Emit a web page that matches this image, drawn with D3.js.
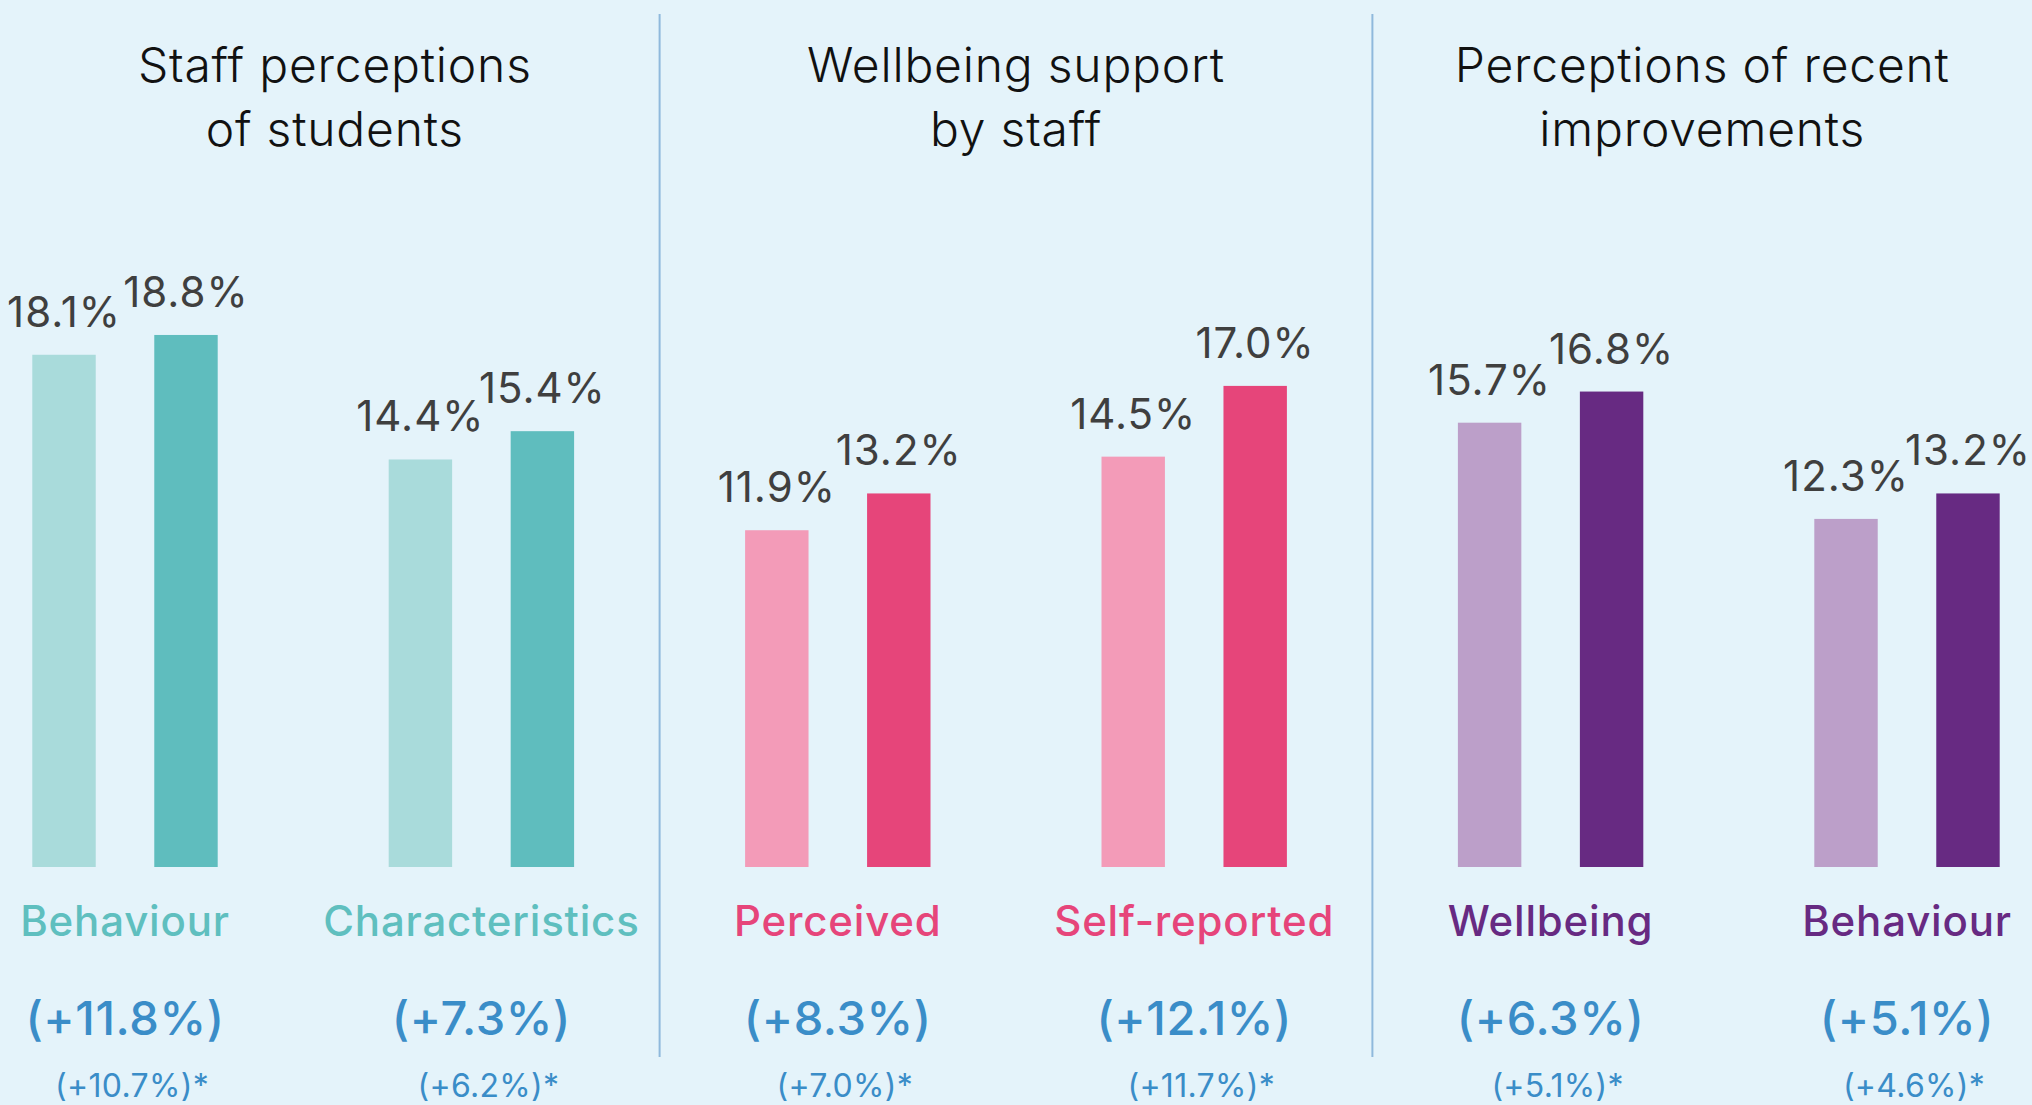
<!DOCTYPE html>
<html lang="en">
  <head>
    <meta charset="utf-8">
    <title>Staff perceptions</title>
    <script src="https://cdn.jsdelivr.net/npm/d3@7"></script>
    <style>
      body { margin: 0; background: #e4f3fa; }
      svg { display: block; }
      .title { font-family: Inter, sans-serif; font-size: 48px; font-weight: 300; fill: #111; letter-spacing: 0.8px; }
      .value { font-family: Inter, sans-serif; font-size: 42px; fill: #3f3f3f; letter-spacing: 1px; }
      .cat { font-family: Inter, sans-serif; font-size: 42px; font-weight: 500; letter-spacing: 0.8px; }
      .change { font-family: Inter, sans-serif; font-size: 47px; font-weight: 500; fill: #3a8dc8; letter-spacing: 0.6px; }
      .note { font-family: Inter, sans-serif; font-size: 32px; fill: #3a8dc8; letter-spacing: 0.3px; }
    </style>
  </head>
  <body>
    <script>
      // data
      var panelTitles = [
        ["Staff perceptions", "of students"],
        ["Wellbeing support", "by staff"],
        ["Perceptions of recent", "improvements"]
      ];
      var categories = ["Behaviour", "Characteristics", "Perceived", "Self-reported", "Wellbeing", "Behaviour"];
      var before = [18.1, 14.4, 11.9, 14.5, 15.7, 12.3];
      var after  = [18.8, 15.4, 13.2, 17.0, 16.8, 13.2];
      var changes = ["(+11.8%)", "(+7.3%)", "(+8.3%)", "(+12.1%)", "(+6.3%)", "(+5.1%)"];
      var notes = ["(+10.7%)*", "(+6.2%)*", "(+7.0%)*", "(+11.7%)*", "(+5.1%)*", "(+4.6%)*"];

      var lightColors = ["#a9dbdb", "#f39bb8", "#bc9fc9"];
      var darkColors  = ["#5fbdbe", "#e6457a", "#672a82"];
      var catColors   = ["#5fbfbf", "#e6457a", "#672a82"];

      var w = 2032, h = 1105;
      var baseY = 867;

      var svg = d3.select("body").append("svg")
        .attr("width", w)
        .attr("height", h);

      var idx = d3.range(categories.length);

      // one band per category group, two groups per panel
      var x0 = d3.scaleBand()
        .domain(idx)
        .range([-53.2, -53.2 + 356.4 * 6]);

      var x1 = d3.scaleBand()
        .domain(["before", "after"])
        .range([-92.7, 92.7])
        .paddingInner(0.48);

      var y = d3.scaleLinear()
        .domain([0, 20])
        .range([baseY, baseY - 20 * 28.3]);

      function cx(i) { return x0(i) + x0.bandwidth() / 2; }
      function panel(i) { return Math.floor(i / 2); }

      // dividers
      svg.selectAll("line.divider")
        .data([2, 4])
        .enter()
        .append("line")
        .attr("x1", function (d) { return x0(d); })
        .attr("x2", function (d) { return x0(d); })
        .attr("y1", 14)
        .attr("y2", 1057)
        .attr("stroke", "#8fb9dc")
        .attr("stroke-width", 2);

      // panel titles
      var titles = svg.selectAll("text.title")
        .data(panelTitles)
        .enter()
        .append("text")
        .attr("class", "title")
        .attr("text-anchor", "middle")
        .attr("transform", function (d, p) {
          var left = Math.max(0, x0(p * 2));
          var right = Math.min(w, x0(p * 2) + x0.step() * 2);
          return "translate(" + ((left + right) / 2 + (p === 0 ? 5 : 0)) + ",0)";
        });

      titles.selectAll("tspan")
        .data(function (d) { return d; })
        .enter()
        .append("tspan")
        .attr("x", 0)
        .attr("y", function (d, i) { return 82 + i * 64; })
        .text(function (d) { return d; });

      // bars
      var rows = [];
      idx.forEach(function (i) {
        rows.push({ i: i, key: "before", v: before[i] });
        rows.push({ i: i, key: "after", v: after[i] });
      });

      svg.selectAll("rect.bar")
        .data(rows)
        .enter()
        .append("rect")
        .attr("class", "bar")
        .attr("x", function (d) { return cx(d.i) + x1(d.key); })
        .attr("y", function (d) { return y(d.v); })
        .attr("width", x1.bandwidth())
        .attr("height", function (d) { return y(0) - y(d.v); })
        .attr("fill", function (d) {
          return d.key === "before" ? lightColors[panel(d.i)] : darkColors[panel(d.i)];
        });

      svg.selectAll("text.value")
        .data(rows)
        .enter()
        .append("text")
        .attr("class", "value")
        .attr("text-anchor", "middle")
        .attr("x", function (d) { return cx(d.i) + x1(d.key) + x1.bandwidth() / 2; })
        .attr("y", function (d) { return y(d.v) - 28; })
        .text(function (d) { return d.v.toFixed(1) + "%"; });

      // category labels
      svg.selectAll("text.cat")
        .data(categories)
        .enter()
        .append("text")
        .attr("class", "cat")
        .attr("text-anchor", "middle")
        .attr("x", function (d, i) { return cx(i); })
        .attr("y", 936)
        .attr("fill", function (d, i) { return catColors[panel(i)]; })
        .text(function (d) { return d; });

      svg.selectAll("text.change")
        .data(changes)
        .enter()
        .append("text")
        .attr("class", "change")
        .attr("text-anchor", "middle")
        .attr("x", function (d, i) { return cx(i); })
        .attr("y", 1035)
        .text(function (d) { return d; });

      svg.selectAll("text.note")
        .data(notes)
        .enter()
        .append("text")
        .attr("class", "note")
        .attr("text-anchor", "middle")
        .attr("x", function (d, i) { return cx(i) + 7; })
        .attr("y", 1097)
        .text(function (d) { return d; });
    </script>
  </body>
</html>
